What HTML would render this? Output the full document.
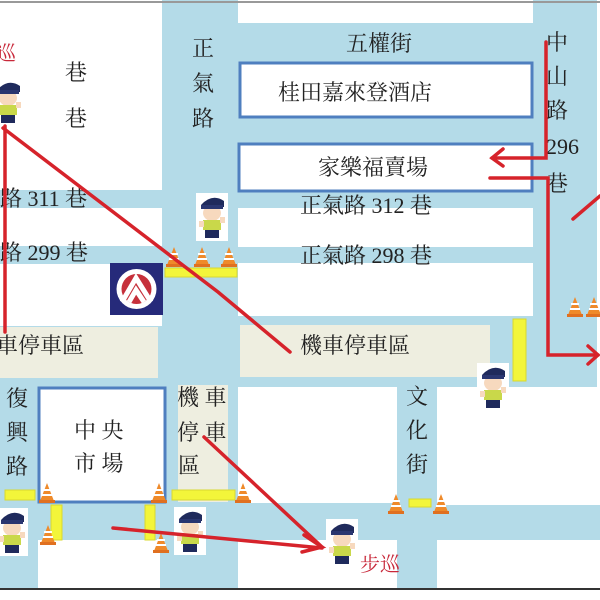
<!DOCTYPE html>
<html><head><meta charset="utf-8"><style>
html,body{margin:0;padding:0;background:#fff}
svg{display:block}
text{font-family:"Liberation Serif","Noto Serif CJK SC","Noto Sans CJK TC",serif;fill:#222;font-size:22px}
</style></head><body>
<svg width="600" height="600" viewBox="0 0 600 600" xmlns="http://www.w3.org/2000/svg">
<defs>
<g id="cop">
<rect x="0" y="0" width="32" height="48" fill="#fff"/>
<path d="M5 12 Q16 0 28 8 L28 14 L5 14Z" fill="#1f2a5c"/>
<ellipse cx="16" cy="20" rx="9" ry="8" fill="#f7d9be"/>
<rect x="5" y="12" width="22" height="4" fill="#2a3670"/>
<rect x="7" y="27" width="18" height="10" fill="#c9d84a"/>
<rect x="3" y="28" width="5" height="6" fill="#f7d9be"/>
<rect x="24" y="24" width="5" height="6" fill="#f7d9be"/>
<rect x="9" y="37" width="14" height="8" fill="#1f2a5c"/>
</g>
<g id="cone">
<polygon points="8,0 15,18 1,18" fill="#ef8a2a"/>
<rect x="0" y="17" width="16" height="3" fill="#e07020"/>
<rect x="4" y="6" width="8" height="2" fill="#fff"/>
<rect x="3" y="11" width="10" height="2" fill="#fff"/>
</g>
</defs>
<rect x="0" y="0" width="600" height="590" fill="#b4dbe8"/>
<g fill="#fff">
<rect x="0" y="0" width="162" height="190"/>
<rect x="0" y="208" width="162" height="38"/>
<rect x="0" y="264" width="162" height="62"/>
<rect x="238" y="0" width="295" height="23"/>
<rect x="597" y="0" width="3" height="390"/>
<rect x="238" y="208" width="295" height="39"/>
<rect x="238" y="263" width="295" height="53"/>
<rect x="238" y="387" width="159" height="116"/>
<rect x="437" y="387" width="163" height="118"/>
<rect x="38" y="540" width="122" height="48"/>
<rect x="238" y="540" width="159" height="48"/>
<rect x="437" y="540" width="163" height="48"/>
<rect x="0" y="590" width="600" height="10"/>
</g>
<g fill="#eeeee0">
<rect x="0" y="327" width="158" height="51"/>
<rect x="240" y="325" width="250" height="52"/>
<rect x="178" y="385" width="50" height="117"/>
</g>
<g fill="#fff" stroke="#4f7fbf" stroke-width="3">
<rect x="240" y="63" width="292" height="54"/>
<rect x="239" y="144" width="293" height="47"/>
<rect x="39" y="388" width="126" height="114"/>
</g>
<line x1="0" y1="2" x2="600" y2="2" stroke="#999" stroke-width="2"/>
<line x1="0" y1="589" x2="600" y2="589" stroke="#333" stroke-width="2"/>
<rect x="110" y="263" width="53" height="52" fill="#262a7a"/>
<circle cx="136.500" cy="289" r="20" fill="#fff"/>
<circle cx="136.500" cy="289" r="15" fill="#c6303b"/>
<path d="M122 302 L136 278 L151 302 M129 302 L136 290 L144 302" stroke="#fff" stroke-width="5" fill="none"/>
<g fill="#f3f53a" stroke="#d8d830" stroke-width="1">
<rect x="165" y="268" width="72" height="9"/>
<rect x="513" y="319" width="13" height="62"/>
<rect x="5" y="490" width="30" height="10"/>
<rect x="172" y="490" width="63" height="10"/>
<rect x="51" y="505" width="11" height="35"/>
<rect x="145" y="505" width="10" height="35"/>
<rect x="409" y="499" width="22" height="8"/>
</g>
<use href="#cone" x="166" y="247"/><use href="#cone" x="194" y="247"/><use href="#cone" x="221" y="247"/>
<use href="#cone" x="567" y="297"/><use href="#cone" x="586" y="297"/>
<use href="#cone" x="39" y="483"/><use href="#cone" x="151" y="483"/><use href="#cone" x="235" y="483"/>
<use href="#cone" x="40" y="525"/><use href="#cone" x="153" y="533"/>
<use href="#cone" x="388" y="494"/><use href="#cone" x="433" y="494"/>
<use href="#cop" x="-8" y="78"/>
<use href="#cop" x="196" y="193"/>
<use href="#cop" x="-4" y="508"/>
<use href="#cop" x="174" y="507"/>
<use href="#cop" x="326" y="519"/>
<use href="#cop" x="477" y="363"/>
<text x="65" y="80">巷</text><text x="65" y="126">巷</text>
<text x="192" y="56">正</text><text x="192" y="91">氣</text><text x="192" y="126">路</text>
<text x="346" y="51">五權街</text>
<text x="278" y="100">桂田嘉來登酒店</text>
<text x="318" y="175">家樂福賣場</text>
<text x="546" y="50">中</text><text x="546" y="84">山</text><text x="546" y="118">路</text>
<text x="546" y="154">296</text><text x="546" y="191">巷</text>
<text x="0" y="206">路 311 巷</text>
<text x="0" y="260">路 299 巷</text>
<text x="300" y="213">正氣路 312 巷</text>
<text x="300" y="263">正氣路 298 巷</text>
<text x="-4" y="353">車停車區</text>
<text x="300" y="353">機車停車區</text>
<text x="6" y="406">復</text><text x="6" y="440">興</text><text x="6" y="474">路</text>
<text x="74" y="438">中 央</text><text x="74" y="471">市 場</text>
<text x="177" y="405">機 車</text><text x="177" y="440">停 車</text><text x="178" y="473">區</text>
<text x="406" y="404">文</text><text x="406" y="438">化</text><text x="406" y="472">街</text>
<text x="-4" y="60" style="fill:#c8283a;font-size:20px">巡</text>
<text x="360" y="571" style="fill:#c8283a;font-size:20px">步巡</text>
<g stroke="#d6232b" stroke-width="3.500" fill="none" stroke-linecap="round">
<line x1="5" y1="126" x2="5" y2="332"/>
<polyline points="3,128 218,292 290,352"/>
<polyline points="546,42 546,158 492,158"/>
<polyline points="503,149 492,158 503,166"/>
<polyline points="490,178 548,178 548,355 598,355"/>
<polyline points="588,346 598,355 588,364"/>
<line x1="573" y1="219" x2="600" y2="196"/>
<line x1="204" y1="437" x2="322" y2="547"/>
<line x1="113" y1="528" x2="322" y2="548"/>
<polyline points="304,535 322,547 302,552"/>
</g>
</svg>
</body></html>
